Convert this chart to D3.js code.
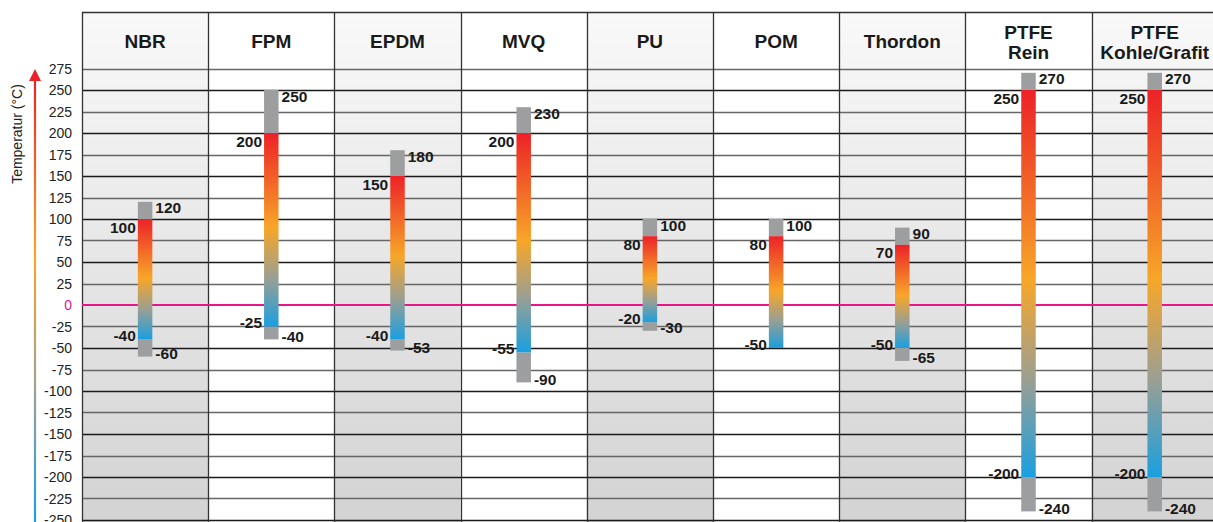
<!DOCTYPE html>
<html>
<head>
<meta charset="utf-8">
<script src="https://cdn.jsdelivr.net/npm/d3@7"></script>
<style>
  body { margin: 0; background: #fff; }
  svg { display: block; font-family: "Liberation Sans", Arial, Helvetica, sans-serif; }
</style>
</head>
<body>
<script>
// materials (header lines) and temperature ranges in °C
const materials = [["NBR"], ["FPM"], ["EPDM"], ["MVQ"], ["PU"], ["POM"], ["Thordon"], ["PTFE", "Rein"], ["PTFE", "Kohle/Grafit"]];
const peakMax = [120, 250, 180, 230, 100, 100, 90, 270, 270];     // short-term upper limit (grey)
const contMax = [100, 200, 150, 200, 80, 80, 70, 250, 250];       // continuous upper limit
const contMin = [-40, -25, -40, -55, -20, -50, -50, -200, -200];  // continuous lower limit
const peakMin = [-60, -40, -53, -90, -30, null, -65, -240, -240]; // short-term lower limit (grey)
const tickValues = d3.range(275, -251, -25);

const width = 1213, height = 522;
const margin = {top: 12, left: 82};
const colW = 126.2;

const svg = d3.select("body").append("svg")
  .attr("width", width).attr("height", height);

const defs = svg.append("defs");

const x = d3.scaleBand()
  .domain(d3.range(materials.length))
  .range([margin.left, margin.left + colW * materials.length]);

const y = d3.scaleLinear()
  .domain([-250, 275])
  .range([520, 68.5]);

// column background gradient
const bg = defs.append("linearGradient").attr("id", "colbg")
  .attr("x1", 0).attr("x2", 0).attr("y1", 0).attr("y2", 1);
bg.append("stop").attr("offset", 0).attr("stop-color", "#f9f9f9");
bg.append("stop").attr("offset", 1).attr("stop-color", "#d3d3d3");

// bar gradient (per bar, relative)
const bar = defs.append("linearGradient").attr("id", "bargrad")
  .attr("x1", 0).attr("x2", 0).attr("y1", 0).attr("y2", 1);
[[0, "#ec2227"], [0.49, "#f7a628"], [0.75, "#9a9f93"], [1, "#1a9fe0"]]
  .forEach(([o, c]) => bar.append("stop").attr("offset", o).attr("stop-color", c));

// axis arrow gradient
const arr = defs.append("linearGradient").attr("id", "arrgrad")
  .attr("gradientUnits", "userSpaceOnUse")
  .attr("x1", 0).attr("x2", 0).attr("y1", 78).attr("y2", 522);
[[0, "#ec2227"], [0.4, "#f7a628"], [0.7, "#9fa096"], [1, "#1a9fe0"]]
  .forEach(([o, c]) => arr.append("stop").attr("offset", o).attr("stop-color", c));

// columns
svg.append("g").selectAll("rect")
  .data(materials)
  .join("rect")
    .attr("x", (d, i) => x(i))
    .attr("y", margin.top)
    .attr("width", x.bandwidth())
    .attr("height", height - margin.top)
    .attr("fill", (d, i) => i % 2 === 0 ? "url(#colbg)" : "#fff");

// grid lines
svg.append("g").selectAll("line")
  .data(tickValues)
  .join("line")
    .attr("x1", margin.left).attr("x2", width)
    .attr("y1", d => Math.round(y(d)) + 0.5).attr("y2", d => Math.round(y(d)) + 0.5)
    .attr("stroke", d => d === 0 ? "none" : (d % 50 === 0 ? "#1a1a1a" : "#666"))
    .attr("stroke-width", 1.3);

// header top line
svg.append("line")
  .attr("x1", margin.left).attr("x2", width)
  .attr("y1", margin.top + 0.5).attr("y2", margin.top + 0.5)
  .attr("stroke", "#333").attr("stroke-width", 1.3);

// column separators
svg.append("g").selectAll("line")
  .data(d3.range(materials.length + 1))
  .join("line")
    .attr("x1", i => Math.round(margin.left + i * colW) + 0.5)
    .attr("x2", i => Math.round(margin.left + i * colW) + 0.5)
    .attr("y1", margin.top).attr("y2", height)
    .attr("stroke", "#333").attr("stroke-width", 1.3);

// zero line
svg.append("line")
  .attr("x1", margin.left).attr("x2", width)
  .attr("y1", y(0)).attr("y2", y(0))
  .attr("stroke", "#e8168a").attr("stroke-width", 2.2);

// headers
const head = svg.append("g").selectAll("text")
  .data(materials)
  .join("text")
    .attr("x", (d, i) => x(i) + x.bandwidth() / 2)
    .attr("y", d => d.length === 1 ? 48 : 39)
    .attr("text-anchor", "middle")
    .attr("font-size", 19)
    .attr("font-weight", "bold")
    .attr("fill", "#1a1a1a");
head.selectAll("tspan")
  .data(d => d)
  .join("tspan")
    .attr("x", function () { return d3.select(this.parentNode).attr("x"); })
    .attr("dy", (d, i) => i === 0 ? 0 : 20)
    .text(d => d);

// y axis tick labels
svg.append("g").selectAll("text")
  .data(tickValues)
  .join("text")
    .attr("x", 72)
    .attr("y", d => y(d))
    .attr("dy", "0.36em")
    .attr("text-anchor", "end")
    .attr("font-size", 14)
    .attr("fill", d => d === 0 ? "#e8168a" : "#222")
    .text(d => d);

// y axis arrow + label
svg.append("line")
  .attr("x1", 35).attr("x2", 35)
  .attr("y1", 78).attr("y2", 522)
  .attr("stroke", "url(#arrgrad)").attr("stroke-width", 2.2);
svg.append("path")
  .attr("d", "M29,81 L35,69 L41,81 Z")
  .attr("fill", "#ec2227");
svg.append("text")
  .attr("transform", "translate(22,134) rotate(-90)")
  .attr("text-anchor", "middle")
  .attr("font-size", 14)
  .attr("fill", "#222")
  .text("Temperatur  (°C)");

// bars
const barW = 14.5;
const bars = svg.append("g").selectAll("g")
  .data(materials.map((m, i) => ({i, pMax: peakMax[i], cMax: contMax[i], cMin: contMin[i], pMin: peakMin[i]})))
  .join("g")
    .attr("transform", d => `translate(${x(d.i) + x.bandwidth() / 2 - barW / 2},0)`);

bars.append("rect")
  .attr("y", d => y(d.pMax))
  .attr("height", d => y(d.cMax) - y(d.pMax))
  .attr("width", barW)
  .attr("fill", "#9c9e9f");
bars.filter(d => d.pMin !== null).append("rect")
  .attr("y", d => y(d.cMin))
  .attr("height", d => y(d.pMin) - y(d.cMin))
  .attr("width", barW)
  .attr("fill", "#9c9e9f");
bars.append("rect")
  .attr("y", d => y(d.cMax))
  .attr("height", d => y(d.cMin) - y(d.cMax))
  .attr("width", barW)
  .attr("fill", "url(#bargrad)");

// value labels
const lbl = (sel) => sel
  .attr("font-size", 15.5)
  .attr("font-weight", "bold")
  .attr("fill", "#1a1a1a")
  .attr("dy", "0.36em");

bars.append("text").call(lbl)
  .attr("x", barW + 3).attr("y", d => y(d.pMax) + 6)
  .text(d => d.pMax);
bars.append("text").call(lbl)
  .attr("x", -2).attr("y", d => y(d.cMax) + 8)
  .attr("text-anchor", "end")
  .text(d => d.cMax);
bars.append("text").call(lbl)
  .attr("x", -2).attr("y", d => y(d.cMin) - 4)
  .attr("text-anchor", "end")
  .text(d => d.cMin);
bars.filter(d => d.pMin !== null).append("text").call(lbl)
  .attr("x", barW + 3).attr("y", d => y(d.pMin) - 3)
  .text(d => d.pMin);
</script>
</body>
</html>
